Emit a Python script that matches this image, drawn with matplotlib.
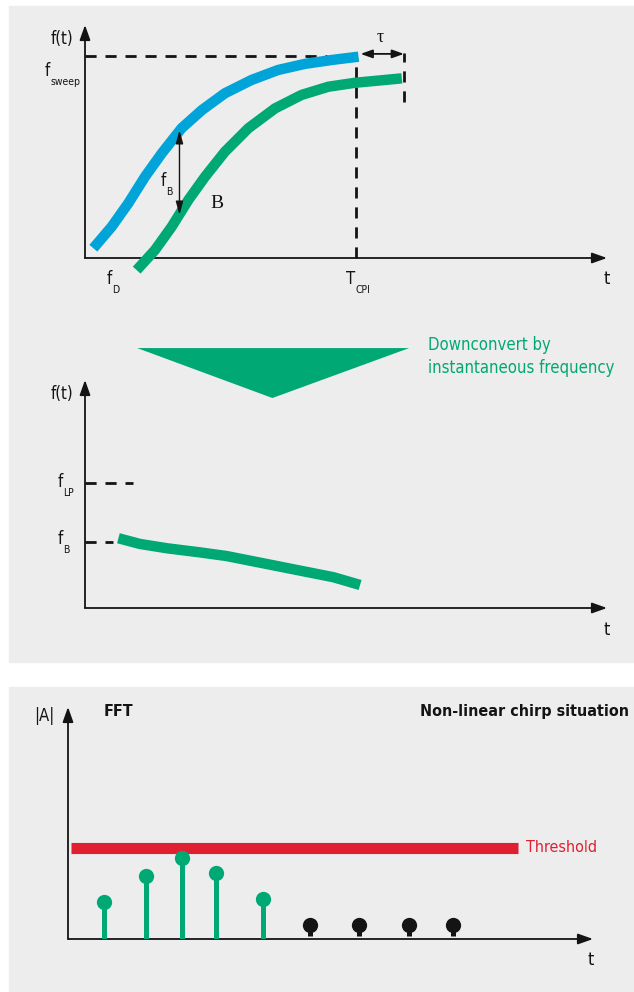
import numpy as np
import matplotlib
matplotlib.use("Agg")
import matplotlib.pyplot as plt
from matplotlib.patches import Rectangle, Polygon

plt.rcParams['font.family'] = ['DejaVu Sans']
plt.rcParams['font.stretch'] = 'condensed'

BLUE = '#00a4d8'
GREEN = '#00a874'
RED = '#e01f30'
INK = '#141414'
PANEL = '#ededed'

# top chart: transmitted (blue) and received (green) chirp
tx_t = [0.16, 0.51, 0.83, 1.15, 1.47, 1.85, 2.24, 2.68, 3.19, 3.70, 4.21, 4.73, 5.24]
tx_f = [0.42, 1.34, 2.35, 3.49, 4.49, 5.57, 6.35, 7.07, 7.64, 8.07, 8.33, 8.50, 8.64]
rx_t = [0.99, 1.34, 1.66, 1.98, 2.30, 2.68, 3.13, 3.64, 4.15, 4.66, 5.17, 6.07]
rx_f = [-0.52, 0.34, 1.34, 2.49, 3.49, 4.56, 5.57, 6.42, 7.00, 7.35, 7.52, 7.71]
f_sweep = 8.68
t_cpi = 5.20
t_tau = 6.11
fb_t = 1.81

# middle chart: beat frequency after downconversion
beat_t = [0.64, 1.05, 1.57, 2.20, 2.71, 3.35, 4.12, 4.76, 5.27]
beat_f = [3.06, 2.81, 2.62, 2.44, 2.28, 1.99, 1.64, 1.35, 1.01]
f_lp = 5.48
f_b = 2.89

# bottom chart: FFT bins
bins_in = [0.69, 1.49, 2.17, 2.82, 3.71]
amp_in = [1.59, 2.72, 3.49, 2.84, 1.72]
bins_out = [4.61, 5.54, 6.50, 7.33]
amp_out = [0.60, 0.60, 0.60, 0.60]
threshold = 3.94

W, H = 634, 992
fig = plt.figure(figsize=(W / 100, H / 100), dpi=100)
fig.patch.set_facecolor('white')

def px_box(left, top, right, bottom):
    return [left / W, 1 - bottom / H, (right - left) / W, (bottom - top) / H]

for top, bottom in [(6, 662), (687, 992)]:
    fig.add_artist(Rectangle((9 / W, 1 - bottom / H), (W - 9) / W, (bottom - top) / H,
                             transform=fig.transFigure, color=PANEL, zorder=0))

def make_axes(box):
    ax = fig.add_axes(box)
    ax.set_xlim(0, 10)
    ax.set_ylim(0, 10)
    ax.axis('off')
    arrow = dict(arrowstyle='-|>,head_length=0.9,head_width=0.32', lw=1.3,
                 color=INK, shrinkA=0, shrinkB=0)
    ax.annotate('', xy=(10, 0), xytext=(0, 0), arrowprops=arrow, annotation_clip=False)
    ax.annotate('', xy=(0, 10), xytext=(0, 0), arrowprops=arrow, annotation_clip=False)
    return ax

def sub_label(ax, x, y, main, sub, size=12):
    # letter with a small subscript, placed in axes data coords
    t = ax.text(x, y, main, fontsize=size, color=INK, ha='left', va='baseline')
    ax.annotate(sub, xy=(1, 0), xycoords=t, xytext=(0.3, -3.5),
                textcoords='offset points', fontsize=size * 0.62, color=INK,
                ha='left', va='baseline')

dash = dict(color=INK, lw=2.0, dashes=(4, 3.2), clip_on=False)

# ---- top chart ----
ax1 = make_axes(px_box(85, 25, 607, 258))
ax1.plot(tx_t, tx_f, color=BLUE, lw=7.5, solid_capstyle='butt', solid_joinstyle='round',
         clip_on=False, zorder=3)
ax1.plot(rx_t, rx_f, color=GREEN, lw=7.5, solid_capstyle='butt', solid_joinstyle='round',
         clip_on=False, zorder=3)
ax1.plot([0, tx_t[-1] - 0.6], [f_sweep, f_sweep], **dash)
ax1.plot([t_cpi, t_cpi], [0, tx_f[-1]], **dash)
ax1.plot([t_tau, t_tau], [6.71, 8.80], **dash)
ax1.annotate('', xy=(t_tau, 8.76), xytext=(t_cpi + 0.08, 8.76),
             arrowprops=dict(arrowstyle='<|-|>,head_length=0.7,head_width=0.25',
                             lw=1.3, color=INK, shrinkA=0, shrinkB=0), annotation_clip=False)
ax1.annotate('', xy=(fb_t, 5.49), xytext=(fb_t, 1.85),
             arrowprops=dict(arrowstyle='<|-|>,head_length=0.8,head_width=0.22',
                             lw=1.0, color=INK, shrinkA=0, shrinkB=0))
ax1.text(-0.45, 9.4, 'f(t)', fontsize=12, color=INK, ha='center', va='center')
ax1.text((t_cpi + t_tau) / 2, 9.45, 'τ', fontsize=13, color=INK, ha='center',
         va='center', family='Liberation Serif')
ax1.text(2.53, 2.35, 'B', fontsize=14, color=INK, ha='center', va='center',
         family='Liberation Serif')
sub_label(ax1, -0.77, 7.8, 'f', 'sweep')
sub_label(ax1, 1.45, 3.1, 'f', 'B')
sub_label(ax1, 0.42, -1.12, 'f', 'D')
sub_label(ax1, 5.00, -1.12, 'T', 'CPI')
ax1.text(10.0, -0.9, 't', fontsize=13, color=INK, ha='center', va='center')

# ---- middle chart ----
ax2 = make_axes(px_box(85, 380, 607, 608))
ax2.add_patch(Polygon([[1.00, 11.4], [6.21, 11.4], [3.59, 9.21]], closed=True,
                      color=GREEN, clip_on=False, lw=0))
ax2.text(6.58, 11.05, 'Downconvert by\ninstantaneous frequency', fontsize=12,
         color=GREEN, ha='left', va='center', linespacing=1.35)
ax2.plot(beat_t, beat_f, color=GREEN, lw=7.5, solid_capstyle='butt',
         solid_joinstyle='round', zorder=3)
ax2.plot([0, 0.92], [f_lp, f_lp], **dash)
ax2.plot([0, 0.54], [f_b, f_b], **dash)
ax2.text(-0.45, 9.4, 'f(t)', fontsize=12, color=INK, ha='center', va='center')
sub_label(ax2, -0.52, 5.3, 'f', 'LP')
sub_label(ax2, -0.52, 2.82, 'f', 'B')
ax2.text(10.0, -0.95, 't', fontsize=13, color=INK, ha='center', va='center')

# ---- bottom chart ----
ax3 = make_axes(px_box(68, 707, 593, 939))
ax3.plot([0.06, 8.57], [threshold, threshold], color=RED, lw=8, solid_capstyle='butt', zorder=2)
ax3.text(8.72, threshold, 'Threshold', fontsize=11.5, color=RED, ha='left', va='center')
ax3.vlines(bins_in, 0, amp_in, color=GREEN, lw=3.6, zorder=3)
ax3.plot(bins_in, amp_in, 'o', color=GREEN, ms=11, mec='none', zorder=4)
ax3.vlines(bins_out, 0.15, amp_out, color=INK, lw=3.6, zorder=3)
ax3.plot(bins_out, amp_out, 'o', color=INK, ms=11, mec='none', zorder=4)
ax3.text(-0.45, 9.6, '|A|', fontsize=12, color=INK, ha='center', va='center')
ax3.text(0.67, 9.8, 'FFT', fontsize=11.5, color=INK, ha='left', va='center', weight='bold')
ax3.text(10.68, 9.8, 'Non-linear chirp situation', fontsize=11.5, color=INK,
         ha='right', va='center', weight='bold')
ax3.text(9.95, -0.9, 't', fontsize=13, color=INK, ha='center', va='center')

fig.savefig('out.png', dpi=100)
